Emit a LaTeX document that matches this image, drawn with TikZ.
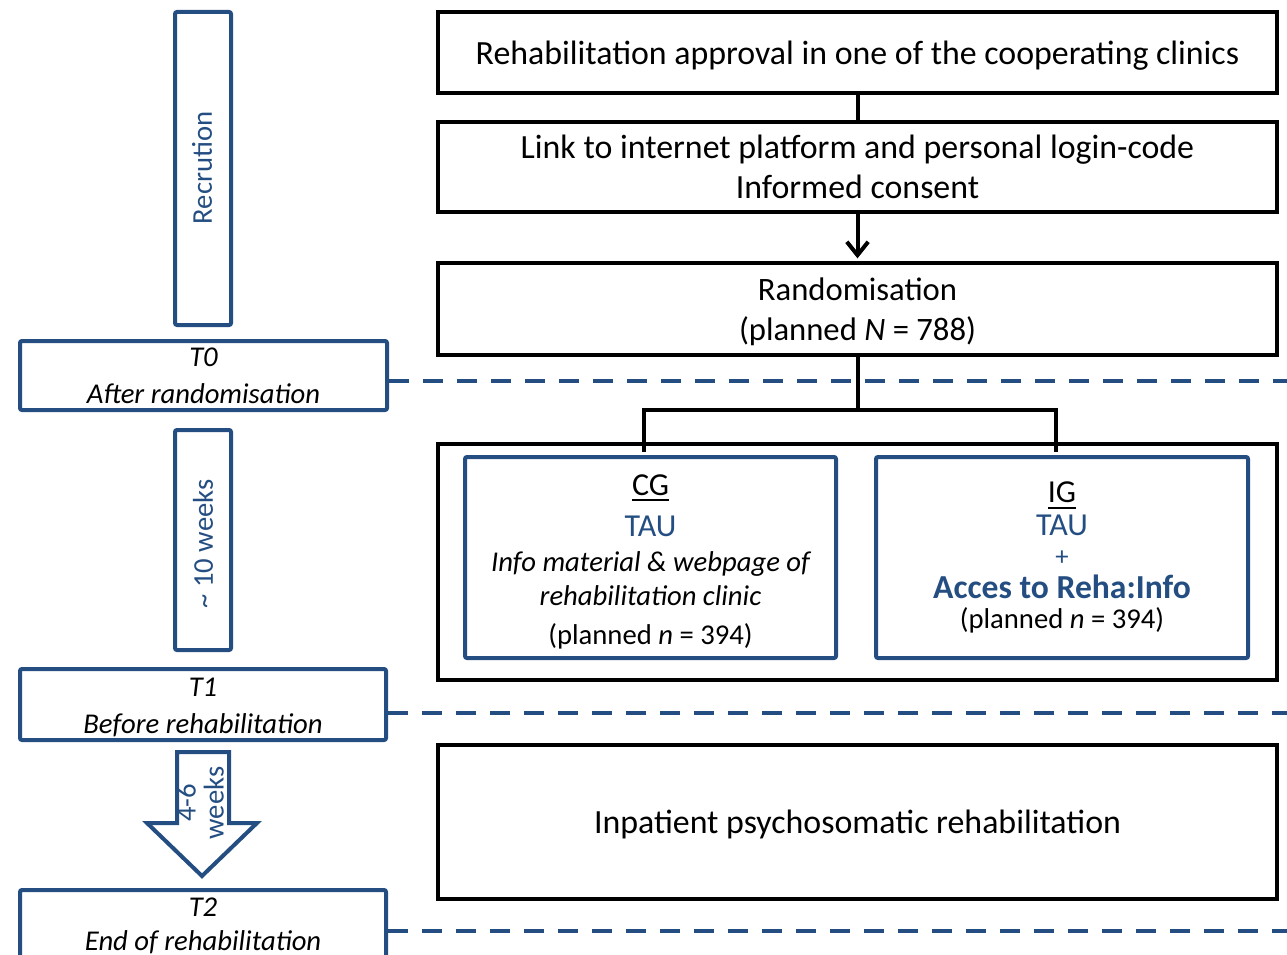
\documentclass[tikz,border=0pt]{standalone}
\usepackage{fontspec}
\setmainfont{Carlito}
\usetikzlibrary{arrows.meta}
\definecolor{dblue}{RGB}{36,78,130}
\newcommand{\myul}[1]{\setbox0\hbox{#1}\rlap{\raisebox{-4.6pt}{\rule{\wd0}{1.5pt}}}\box0}
\begin{document}
\begin{tikzpicture}[x=0.75pt, y=-0.75pt,
  every node/.style={inner sep=0pt},
  blk/.style 2 args={draw=black, line width=3pt, minimum width=#1*0.75pt, minimum height=#2*0.75pt, align=center, font=\fontsize{25.4}{30}\selectfont},
  blu/.style 2 args={draw=dblue, line width=3pt, rounded corners=1.5pt, minimum width=#1*0.75pt, minimum height=#2*0.75pt, align=center},
  vlabel/.style={rotate=90, text=dblue, font=\fontsize{21.5}{21}\selectfont, align=center},
  conn/.style={draw=black, line width=3pt},
  dashline/.style={draw=dblue, line width=3pt, dash pattern=on 15pt off 10.5pt},
  txt/.style={anchor=base, inner sep=0pt},
  cgbig/.style={font=\fontsize{24}{28}\selectfont},
  cgsmall/.style={font=\fontsize{21.5}{26}\selectfont},
  titalic/.style={anchor=base, inner sep=0pt, font=\fontsize{21.5}{26}\selectfont\itshape},
]
\useasboundingbox (0,0) rectangle (1287,955);
\clip (0,0) rectangle (1287,955);

% right column
\node[blk={839}{81}, text depth=0pt] (approval) at (857.5,52.5) {Rehabilitation approval in one of the cooperating clinics};
\node[blk={839}{90}] (link) at (857.5,167) {Link to internet platform and personal login-code\\Informed consent};
\node[blk={839}{92}, text depth=0pt, font=\fontsize{24.5}{30}\selectfont] (rand) at (857.5,309) {Randomisation\\(planned \textit{N} = 788)};
\node[blk={839}{236}] (groups) at (857.5,562) {};
\node[blu={371}{201}] (cg) at (650.5,557.5) {};
\node[blu={372}{201}] (ig) at (1062,557.5) {};
\node[blk={839}{154}, text depth=0pt] (inpat) at (857.5,822) {Inpatient psychosomatic rehabilitation};

% CG text
\node[txt, cgbig] (cg1) at (650.5,495) {\myul{CG}};
\node[txt, cgbig, text=dblue] (cg2) at (650.5,536.7) {TAU};
\node[txt, cgsmall] (cg3) at (650.5,571.7) {\itshape Info material \& webpage of};
\node[txt, cgsmall] (cg4) at (650.5,605.7) {\itshape rehabilitation clinic};
\node[txt, cgsmall] (cg5) at (650.5,644) {(planned \textit{n} = 394)};

% IG text
\node[txt, cgbig] (ig1) at (1062,502.7) {\myul{IG}};
\node[txt, cgbig, text=dblue] (ig2) at (1062,535.7) {TAU};
\node[txt, font=\fontsize{20}{24}\selectfont, text=dblue] (ig3) at (1062,565) {+};
\node[txt, font=\fontsize{25.2}{28}\selectfont\bfseries, text=dblue] (ig4) at (1062,598) {Acces to Reha:Info};
\node[txt, cgsmall] (ig5) at (1062,628.3) {(planned \textit{n} = 394)};

% connectors
\draw[conn] (approval.south) -- (link.north);
\draw[conn, -{Straight Barb[length=10pt,width=16pt]}, shorten >=2pt] (link.south) -- (rand.north);
\coordinate (split) at (857.5,410);
\coordinate (cgin) at (644,452);
\coordinate (igin) at (1056,452);
\draw[conn] (rand.south) -- (split);
\draw[conn] (cgin) |- (split) -| (igin);

% left column
\node[blu={56}{313}] (recr) at (203,168.5) {};
\node[vlabel] (recrlab) at (202,168) {Recrution};
\node[blu={367}{69}] (t0) at (203.5,375.5) {};
\node[titalic] (t0a) at (203.5,366.5) {T0};
\node[titalic] (t0b) at (203.5,403) {After randomisation};
\node[blu={56}{220}] (wk) at (203,540) {};
\node[vlabel] (wklab) at (203,544) {\textasciitilde{} 10 weeks};
\node[blu={366}{71}] (t1) at (203,704.5) {};
\node[titalic] (t1a) at (203,696.5) {T1};
\node[titalic] (t1b) at (203,733) {Before rehabilitation};
\node[blu={366}{100}] (t2) at (203,940) {};
\node[titalic] (t2a) at (203,916.7) {T2};
\node[titalic] (t2b) at (203,950) {End of rehabilitation};

% block arrow
\draw[draw=dblue, line width=3pt, line join=miter, fill=white] (177,752) -- (229,752) -- (229,823) -- (257,823) -- (202,876) -- (147,823) -- (177,823) -- cycle;
\node[vlabel] (arrlab) at (200,803) {4-6\\weeks};

% dashed time lines
\coordinate (d0) at (1287,381);
\draw[dashline] (t0.east |- d0) -- (d0);
\coordinate (d1) at (1287,713);
\draw[dashline] (t1.east |- d1) -- (d1);
\coordinate (d2) at (1287,931);
\draw[dashline] (t2.east |- d2) -- (d2);
\end{tikzpicture}
\end{document}
